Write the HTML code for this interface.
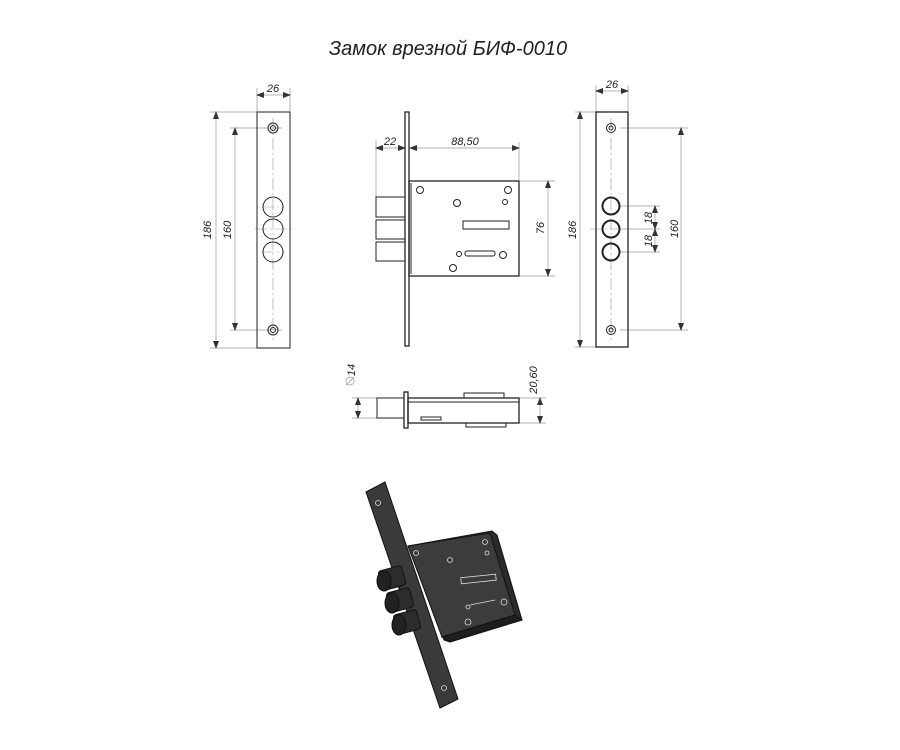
<!DOCTYPE html><html><head><style>body{margin:0;background:#fff}svg{display:block}text{font-family:"Liberation Sans",sans-serif;font-style:italic;fill:#222}</style></head><body>
<svg width="900" height="750" viewBox="0 0 900 750">
<defs><marker id="a" markerWidth="8" markerHeight="6" refX="7" refY="3" orient="auto-start-reverse" markerUnits="userSpaceOnUse"><path d="M0,0 L8,3 L0,6z" fill="#333"/></marker></defs>
<text x="448" y="55" font-size="20" text-anchor="middle">Замок врезной БИФ-0010</text>
<g stroke="#999" stroke-width="0.7" fill="none">
<line x1="257" y1="112" x2="257" y2="88"/><line x1="290" y1="112" x2="290" y2="88"/>
<line x1="210" y1="112" x2="257" y2="112"/><line x1="210" y1="348" x2="257" y2="348"/>
<line x1="230" y1="128" x2="282" y2="128"/><line x1="230" y1="330" x2="282" y2="330"/>
<line x1="596" y1="112" x2="596" y2="85"/><line x1="628" y1="112" x2="628" y2="85"/>
<line x1="575" y1="112" x2="596" y2="112"/><line x1="575" y1="347" x2="596" y2="347"/>
<line x1="620" y1="128" x2="688" y2="128"/><line x1="620" y1="330" x2="688" y2="330"/>
<line x1="620" y1="206" x2="660" y2="206"/><line x1="620" y1="229" x2="660" y2="229"/><line x1="620" y1="252" x2="660" y2="252"/>
<line x1="376" y1="197" x2="376" y2="140"/><line x1="519" y1="181" x2="519" y2="142"/>
<line x1="520" y1="181" x2="555" y2="181"/><line x1="520" y1="276" x2="555" y2="276"/>
<line x1="352" y1="398" x2="377" y2="398"/><line x1="352" y1="418" x2="377" y2="418"/>
<line x1="519" y1="398" x2="546" y2="398"/><line x1="519" y1="423" x2="546" y2="423"/>
<circle cx="350" cy="381" r="4"/><line x1="346" y1="385" x2="354" y2="377"/>
</g>
<g stroke="#999" stroke-width="0.7" marker-start="url(#a)" marker-end="url(#a)">
<line x1="257" y1="95" x2="290" y2="95"/><line x1="216" y1="112" x2="216" y2="348"/><line x1="235" y1="128" x2="235" y2="330"/>
<line x1="596" y1="91" x2="628" y2="91"/><line x1="580" y1="112" x2="580" y2="347"/><line x1="681" y1="128" x2="681" y2="330"/>
<line x1="655" y1="206" x2="655" y2="229"/><line x1="655" y1="229" x2="655" y2="252"/>
<line x1="376" y1="148" x2="405" y2="148"/><line x1="410" y1="148" x2="519" y2="148"/><line x1="548" y1="181" x2="548" y2="276"/>
<line x1="358" y1="398" x2="358" y2="418"/><line x1="540" y1="398" x2="540" y2="423"/>
</g>
<g stroke="#999" stroke-width="0.6" stroke-dasharray="12,3,2,3" fill="none">
<line x1="273" y1="118" x2="273" y2="340"/><line x1="262" y1="207" x2="284" y2="207"/><line x1="255" y1="229" x2="292" y2="229"/><line x1="262" y1="252" x2="284" y2="252"/>
<line x1="611" y1="118" x2="611" y2="340"/><line x1="590" y1="229" x2="620" y2="229"/>
</g>
<g font-size="11" text-anchor="middle">
<text x="273" y="92">26</text><text x="612" y="88">26</text>
<text transform="translate(211,230) rotate(-90)">186</text><text transform="translate(231,230) rotate(-90)">160</text>
<text transform="translate(576,230) rotate(-90)">186</text><text transform="translate(678,229) rotate(-90)">160</text>
<text transform="translate(652,218) rotate(-90)">18</text><text transform="translate(652,241) rotate(-90)">18</text>
<text x="390" y="145">22</text><text x="465" y="145">88,50</text>
<text transform="translate(544,228) rotate(-90)">76</text>
<text transform="translate(355,370) rotate(-90)">14</text><text transform="translate(537,380) rotate(-90)">20,60</text>
</g>
<g stroke="#222" fill="none" stroke-width="1">
<rect x="257" y="112" width="33" height="236"/>
<circle cx="273" cy="128" r="5"/><circle cx="273" cy="128" r="2.5"/><circle cx="273" cy="330" r="5"/><circle cx="273" cy="330" r="2.5"/>
<circle cx="273" cy="207" r="10"/><circle cx="273" cy="229" r="10"/><circle cx="273" cy="252" r="10"/>
<rect x="596" y="112" width="32" height="235" stroke-width="1.3"/>
<circle cx="611" cy="128" r="4.5"/><circle cx="611" cy="128" r="2"/><circle cx="611" cy="330" r="4.5"/><circle cx="611" cy="330" r="2"/>
<circle cx="611" cy="206" r="8.5" stroke-width="2"/><circle cx="611" cy="229" r="8.5" stroke-width="2"/><circle cx="611" cy="252" r="8.5" stroke-width="2"/>
<rect x="405" y="112" width="4" height="234" stroke-width="1.3"/>
<rect x="409" y="181" width="110" height="95" stroke-width="1.3"/>
<line x1="411" y1="183" x2="411" y2="274"/>
<rect x="376" y="197" width="29" height="20"/><rect x="376" y="220" width="29" height="19"/><rect x="376" y="242" width="29" height="19"/>
<circle cx="420" cy="190" r="3.5"/><circle cx="508" cy="190" r="3.5"/><circle cx="505" cy="202" r="2.5"/>
<circle cx="457" cy="203" r="3.5"/><rect x="463" y="221" width="46" height="8"/>
<circle cx="459" cy="254" r="2.5"/><rect x="465" y="251" width="30" height="5" rx="2"/><circle cx="503" cy="255" r="3.5"/><circle cx="453" cy="268" r="3.5"/>
<rect x="404" y="392" width="4" height="36" stroke-width="1.3"/>
<rect x="408" y="398" width="111" height="25" stroke-width="1.3"/>
<rect x="377" y="398" width="27" height="20"/>
<line x1="408" y1="402" x2="519" y2="402"/><rect x="464" y="393" width="40" height="5"/><rect x="466" y="423" width="40" height="4"/><rect x="421" y="417" width="20" height="3"/>
</g>
<g stroke="#111" stroke-width="1">
<polygon points="366,492 385,482 458,699 440,708" fill="#3a3a3a"/>
<polygon points="408,546 492,531 497,535 522,620 450,642 444,640" fill="#2a2a2a"/>
<polygon points="408,546 490,533 515,615 442,637" fill="#3c3c3c"/>
<polygon points="442,637 515,615 522,620 450,642" fill="#1e1e1e"/>
<g fill="#2c2c2c">
<rect x="380" y="568" width="24" height="20" rx="3" transform="rotate(-15 392 578)"/>
<rect x="388" y="590" width="24" height="20" rx="3" transform="rotate(-15 400 600)"/>
<rect x="395" y="612" width="24" height="20" rx="3" transform="rotate(-15 407 622)"/>
</g>
<g fill="#222"><ellipse cx="384" cy="581" rx="7" ry="10"/><ellipse cx="392" cy="603" rx="7" ry="10"/><ellipse cx="399" cy="625" rx="7" ry="10"/></g>
</g>
<g fill="none" stroke="#ddd" stroke-width="0.8">
<circle cx="378" cy="503" r="2.5"/><circle cx="444" cy="688" r="2.5"/>
<circle cx="416" cy="553" r="2.5"/><circle cx="485" cy="542" r="2.5"/><circle cx="450" cy="560" r="2.5"/><circle cx="487" cy="553" r="2"/>
<rect x="461" y="576" width="35" height="6" transform="rotate(-6 478 579)"/>
<line x1="470" y1="605" x2="495" y2="600"/><circle cx="468" cy="607" r="2"/><circle cx="504" cy="602" r="3"/><circle cx="468" cy="622" r="3"/>
</g>
</svg></body></html>
